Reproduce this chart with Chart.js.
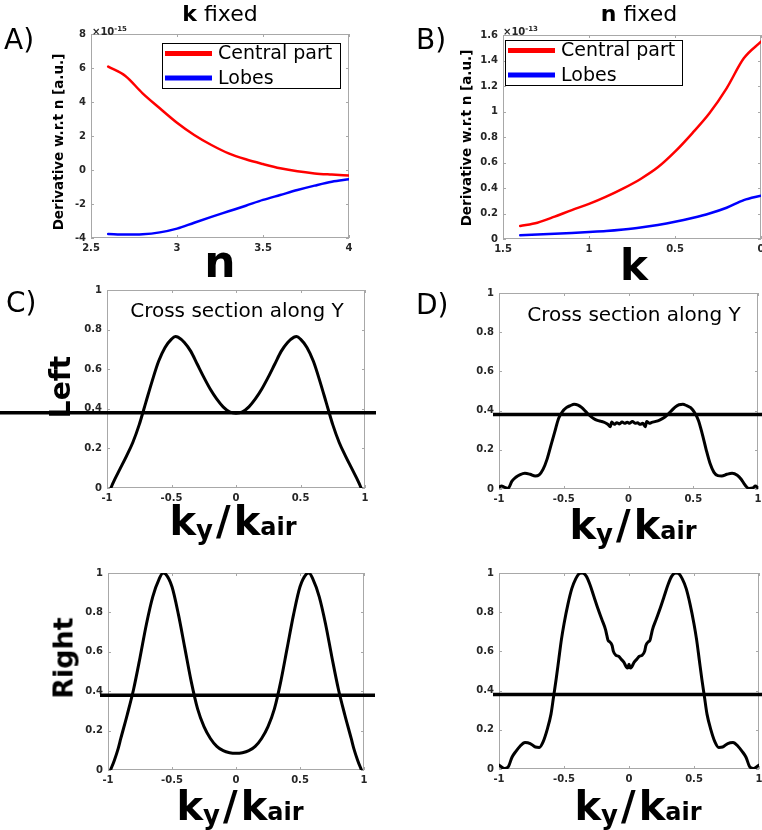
<!DOCTYPE html>
<html>
<head>
<meta charset="utf-8">
<script src="https://cdn.jsdelivr.net/npm/chart.js@4.4.1/dist/chart.umd.min.js"></script>
<style>
  body { margin: 0; background: #fff; }
  #fig { position: relative; width: 762px; height: 830px; overflow: hidden; font-family: 'DejaVu Sans', sans-serif; color: #000; }
  #fig canvas { position: absolute; }
  .txt { position: absolute; white-space: nowrap; line-height: 1; }
  .center { transform: translateX(-50%); }
  .rot { transform: translate(-50%, -50%) rotate(-90deg); font-weight: bold; }
  .kk { position: absolute; transform: translateX(-50%); font: bold 40px 'DejaVu Sans'; line-height: 40px; white-space: nowrap; }
  .kk .sy { font-size: 26px; position: relative; top: 4px; margin-right: 3px; }
  .kk .sl { margin-right: 3px; }
  .kk .sa { font-size: 24px; }
  .exp { position: absolute; font: bold 10px 'DejaVu Sans'; color: #262626; line-height: 10px; }
  .exp sup { font-size: 7px; }
</style>
</head>
<body>
<div id="fig">
  <canvas id="chartA" width="380" height="280" style="left:0;top:0"></canvas>
  <canvas id="chartB" width="382" height="280" style="left:380px;top:0"></canvas>
  <canvas id="chartCL" width="380" height="270" style="left:0;top:280px"></canvas>
  <canvas id="chartDL" width="382" height="270" style="left:380px;top:280px"></canvas>
  <canvas id="chartCR" width="380" height="280" style="left:0;top:550px"></canvas>
  <canvas id="chartDR" width="382" height="280" style="left:380px;top:550px"></canvas>

  <div class="txt" style="left:4px;top:26px;font-size:28px">A)</div>
  <div class="txt" style="left:416px;top:26px;font-size:28px">B)</div>
  <div class="txt" style="left:6px;top:289px;font-size:28px">C)</div>
  <div class="txt" style="left:416px;top:291px;font-size:28px">D)</div>

  <div class="txt center" style="left:220px;top:3px;font-size:22px"><b>k</b> fixed</div>
  <div class="txt center" style="left:639px;top:3px;font-size:22px"><b>n</b> fixed</div>

  <div class="exp" style="left:92px;top:24px">×10<sup>-15</sup></div>
  <div class="exp" style="left:503px;top:24px">×10<sup>-13</sup></div>

  <div class="txt rot" style="left:59px;top:142px;font-size:13.5px">Derivative w.r.t n [a.u.]</div>
  <div class="txt rot" style="left:467px;top:138px;font-size:13.5px">Derivative w.r.t n [a.u.]</div>

  <div class="txt center" style="left:220px;top:240px;font-size:44px;font-weight:bold">n</div>
  <div class="txt center" style="left:634px;top:245px;font-size:42px;font-weight:bold">k</div>

  <div class="txt center" style="left:237px;top:300px;font-size:20px">Cross section along Y</div>
  <div class="txt center" style="left:634px;top:304px;font-size:20px">Cross section along Y</div>

  <div class="txt rot" style="left:61px;top:387px;font-size:28px">Left</div>
  <div class="txt rot" style="left:63px;top:658px;font-size:27px">Right</div>

  <div class="kk" style="left:233px;top:501px">k<span class="sy">y</span><span class="sl">/</span>k<span class="sa">air</span></div>
  <div class="kk" style="left:633px;top:505px">k<span class="sy">y</span><span class="sl">/</span>k<span class="sa">air</span></div>
  <div class="kk" style="left:240px;top:786px">k<span class="sy">y</span><span class="sl">/</span>k<span class="sa">air</span></div>
  <div class="kk" style="left:638px;top:786px">k<span class="sy">y</span><span class="sl">/</span>k<span class="sa">air</span></div>
</div>

<script>
// A) derivative vs n (k fixed), values in units of 1e-15
const nValues = [2.6, 2.7, 2.8, 2.9, 3.0, 3.1, 3.2, 3.3, 3.4, 3.5, 3.6, 3.7, 3.8, 3.9, 4.0];
const centralVsN = [6.08, 5.53, 4.51, 3.63, 2.78, 2.06, 1.47, 0.98, 0.63, 0.35, 0.10, -0.08, -0.20, -0.27, -0.33];
const lobesVsN = [-3.76, -3.80, -3.78, -3.67, -3.45, -3.10, -2.76, -2.43, -2.10, -1.76, -1.47, -1.18, -0.92, -0.69, -0.55];

// B) derivative vs k (n fixed), values in units of 1e-13
const kValues = [1.4, 1.3, 1.2, 1.1, 1.0, 0.9, 0.8, 0.7, 0.6, 0.5, 0.4, 0.3, 0.2, 0.1, 0.0];
const centralVsK = [0.102, 0.128, 0.175, 0.227, 0.275, 0.332, 0.397, 0.471, 0.562, 0.685, 0.829, 0.986, 1.182, 1.417, 1.548];
const lobesVsK = [0.030, 0.036, 0.042, 0.048, 0.055, 0.063, 0.075, 0.090, 0.110, 0.135, 0.165, 0.200, 0.245, 0.305, 0.340];

// C) cross sections, left and right
const kyLeftC = [-0.97, -0.95, -0.9, -0.85, -0.8, -0.75, -0.7, -0.65, -0.6, -0.55, -0.5, -0.47, -0.45, -0.4, -0.35, -0.3, -0.25, -0.2, -0.15, -0.1, -0.05, 0,
                 0.05, 0.1, 0.15, 0.2, 0.25, 0.3, 0.35, 0.4, 0.45, 0.47, 0.5, 0.55, 0.6, 0.65, 0.7, 0.75, 0.8, 0.85, 0.9, 0.95, 0.97];
const leftC = [0, 0.03, 0.095, 0.16, 0.23, 0.32, 0.43, 0.54, 0.64, 0.71, 0.752, 0.765, 0.762, 0.735, 0.69, 0.625, 0.56, 0.5, 0.45, 0.41, 0.385, 0.378,
               0.385, 0.41, 0.45, 0.5, 0.56, 0.625, 0.69, 0.735, 0.762, 0.765, 0.752, 0.71, 0.64, 0.54, 0.43, 0.32, 0.23, 0.16, 0.095, 0.03, 0];

const kyRightC = [-0.98, -0.95, -0.92, -0.9, -0.85, -0.8, -0.75, -0.7, -0.65, -0.6, -0.57, -0.55, -0.5, -0.45, -0.4, -0.35, -0.3, -0.25, -0.2, -0.15, -0.1, -0.05, 0,
                  0.05, 0.1, 0.15, 0.2, 0.25, 0.3, 0.35, 0.4, 0.45, 0.5, 0.55, 0.57, 0.6, 0.65, 0.7, 0.75, 0.8, 0.85, 0.9, 0.92, 0.95, 0.98];
const rightC = [0, 0.05, 0.11, 0.16, 0.28, 0.41, 0.57, 0.74, 0.88, 0.97, 1.0, 0.995, 0.93, 0.79, 0.62, 0.45, 0.31, 0.22, 0.16, 0.12, 0.098, 0.088, 0.085,
                0.088, 0.098, 0.12, 0.16, 0.22, 0.31, 0.45, 0.62, 0.79, 0.93, 0.995, 1.0, 0.97, 0.88, 0.74, 0.57, 0.41, 0.28, 0.16, 0.11, 0.05, 0];

// D) cross sections, left and right
const kyLeftD = [-1, -0.98, -0.96, -0.93, -0.9, -0.87, -0.84, -0.8, -0.76, -0.72, -0.69, -0.66, -0.63, -0.6, -0.57, -0.54, -0.51, -0.48, -0.45, -0.42, -0.39, -0.36, -0.33, -0.3, -0.27, -0.24, -0.21, -0.18, -0.16, -0.14, -0.13, -0.11, -0.09, -0.07, -0.05, -0.03, -0.01,
                 0.01, 0.03, 0.05, 0.07, 0.09, 0.11, 0.13, 0.14, 0.16, 0.18, 0.21, 0.24, 0.27, 0.3, 0.33, 0.36, 0.39, 0.42, 0.45, 0.48, 0.51, 0.54, 0.57, 0.6, 0.63, 0.66, 0.69, 0.72, 0.76, 0.8, 0.84, 0.87, 0.9, 0.93, 0.96, 0.98, 1];
const leftD = [0.01, 0.015, 0.01, 0.003, 0.04, 0.06, 0.072, 0.08, 0.075, 0.066, 0.072, 0.10, 0.15, 0.22, 0.29, 0.36, 0.395, 0.415, 0.425, 0.432, 0.428, 0.415, 0.395, 0.375, 0.36, 0.35, 0.345, 0.338, 0.33, 0.318, 0.342, 0.33, 0.338, 0.332, 0.342, 0.335, 0.34,
               0.335, 0.345, 0.335, 0.338, 0.33, 0.335, 0.318, 0.345, 0.335, 0.34, 0.345, 0.352, 0.362, 0.378, 0.398, 0.418, 0.43, 0.432, 0.425, 0.415, 0.39, 0.35, 0.28, 0.20, 0.13, 0.085, 0.068, 0.066, 0.075, 0.08, 0.07, 0.05, 0.02, 0.003, 0.005, 0.015, 0.005];

const kyRightD = [-1, -0.98, -0.96, -0.93, -0.9, -0.87, -0.84, -0.8, -0.76, -0.72, -0.69, -0.66, -0.63, -0.6, -0.58, -0.56, -0.54, -0.52, -0.5, -0.47, -0.44, -0.41, -0.38, -0.36, -0.33, -0.3, -0.27, -0.24, -0.21, -0.18, -0.17, -0.16, -0.15, -0.13, -0.12, -0.1, -0.08, -0.06, -0.04, -0.02, -0.01, 0,
                  0.01, 0.02, 0.04, 0.06, 0.08, 0.1, 0.12, 0.13, 0.15, 0.16, 0.17, 0.18, 0.21, 0.24, 0.27, 0.3, 0.33, 0.36, 0.38, 0.41, 0.44, 0.47, 0.5, 0.52, 0.54, 0.56, 0.58, 0.6, 0.63, 0.66, 0.69, 0.72, 0.76, 0.8, 0.84, 0.87, 0.9, 0.93, 0.96, 0.98, 1];
const rightD = [0.02, 0.01, 0.003, 0.01, 0.06, 0.09, 0.115, 0.135, 0.13, 0.112, 0.11, 0.14, 0.20, 0.28, 0.37, 0.46, 0.56, 0.66, 0.74, 0.84, 0.92, 0.97, 0.998, 1.0, 0.985, 0.94, 0.88, 0.82, 0.765, 0.71, 0.68, 0.655, 0.65, 0.63, 0.60, 0.58, 0.575, 0.56, 0.545, 0.52, 0.515, 0.535,
                0.515, 0.52, 0.545, 0.56, 0.575, 0.58, 0.60, 0.63, 0.65, 0.655, 0.68, 0.71, 0.765, 0.82, 0.88, 0.94, 0.985, 1.0, 0.998, 0.97, 0.92, 0.84, 0.74, 0.66, 0.56, 0.46, 0.37, 0.28, 0.20, 0.14, 0.11, 0.112, 0.13, 0.135, 0.115, 0.09, 0.06, 0.01, 0.003, 0.01, 0.02];

const threshold = 0.38;

const tickFont = { family: 'DejaVu Sans', size: 10, weight: 'bold' };
const tickColor = '#262626';

function toPoints(xs, ys) {
    return xs.map((x, i) => ({ x: x, y: ys[i] }));
}

// plain number labels: 1 rather than 1.0
function plainTick(value) {
    return String(+value.toFixed(4));
}

// box around the axes with short inward ticks on all four sides
const axesBox = {
    id: 'axesBox',
    beforeDatasetsDraw(chart) {
        const { ctx, chartArea: a, scales: { x, y } } = chart;
        ctx.save();
        ctx.strokeStyle = '#a8a8a8';
        ctx.lineWidth = 1;
        ctx.strokeRect(Math.round(a.left) + 0.5, Math.round(a.top) + 0.5, Math.round(a.width) - 1, Math.round(a.height) - 1);
        ctx.beginPath();
        x.ticks.forEach(t => {
            const px = Math.round(x.getPixelForValue(t.value)) + 0.5;
            ctx.moveTo(px, a.bottom); ctx.lineTo(px, a.bottom - 3);
            ctx.moveTo(px, a.top); ctx.lineTo(px, a.top + 3);
        });
        y.ticks.forEach(t => {
            const py = Math.round(y.getPixelForValue(t.value)) + 0.5;
            ctx.moveTo(a.left, py); ctx.lineTo(a.left + 3, py);
            ctx.moveTo(a.right, py); ctx.lineTo(a.right - 3, py);
        });
        ctx.stroke();
        ctx.restore();
    }
};

// horizontal reference level running past the axes
const levelLine = {
    id: 'levelLine',
    afterDatasetsDraw(chart, args, opts) {
        if (opts.value === undefined) return;
        const { ctx, chartArea: a, scales: { y } } = chart;
        const py = y.getPixelForValue(opts.value);
        ctx.save();
        ctx.strokeStyle = '#000';
        ctx.lineWidth = 3.5;
        ctx.beginPath();
        ctx.moveTo(a.left - opts.extendLeft, py);
        ctx.lineTo(a.right + opts.extendRight, py);
        ctx.stroke();
        ctx.restore();
    }
};

// boxed legend with thick line samples
const boxLegend = {
    id: 'boxLegend',
    afterDraw(chart, args, opts) {
        if (!opts.box) return;
        const { ctx } = chart;
        const [bx, by, bw, bh] = opts.box;
        ctx.save();
        ctx.fillStyle = '#fff';
        ctx.fillRect(bx, by, bw, bh);
        ctx.strokeStyle = '#000';
        ctx.lineWidth = 1;
        ctx.strokeRect(bx + 0.5, by + 0.5, bw, bh);
        ctx.font = '19px "DejaVu Sans"';
        ctx.textBaseline = 'middle';
        chart.data.datasets.forEach((ds, i) => {
            const ry = by + opts.firstRow + i * opts.rowGap;
            ctx.strokeStyle = ds.borderColor;
            ctx.lineWidth = 5;
            ctx.beginPath();
            ctx.moveTo(bx + 3, ry);
            ctx.lineTo(bx + 3 + opts.lineLen, ry);
            ctx.stroke();
            ctx.fillStyle = '#000';
            ctx.fillText(ds.label, bx + opts.lineLen + 9, ry + 1);
        });
        ctx.restore();
    }
};

function makePanel(id, p) {
    const ctx = document.getElementById(id).getContext('2d');
    return new Chart(ctx, {
        type: 'line',
        data: { datasets: p.datasets },
        options: {
            responsive: false,
            animation: false,
            events: [],
            layout: { padding: { top: p.top, right: p.right, left: 0, bottom: 0 } },
            elements: {
                point: { radius: 0 },
                line: { cubicInterpolationMode: 'monotone', borderCapStyle: 'round', borderJoinStyle: 'round' }
            },
            scales: {
                x: {
                    type: 'linear', min: p.xMin, max: p.xMax, reverse: !!p.reverseX,
                    ticks: { stepSize: p.xStep, padding: 4, color: tickColor, font: tickFont, maxRotation: 0, callback: plainTick },
                    grid: { display: false, drawTicks: false },
                    border: { display: false },
                    afterFit: s => { s.height = p.xHeight; s.paddingLeft = 0; s.paddingRight = 0; }
                },
                y: {
                    type: 'linear', min: p.yMin, max: p.yMax,
                    ticks: { stepSize: p.yStep, padding: 5, color: tickColor, font: tickFont, callback: plainTick },
                    grid: { display: false, drawTicks: false },
                    border: { display: false },
                    afterFit: s => { s.width = p.yWidth; s.paddingTop = 0; s.paddingBottom = 0; }
                }
            },
            plugins: {
                legend: { display: false },
                tooltip: { enabled: false },
                levelLine: p.level || {},
                boxLegend: p.legend || {}
            }
        },
        plugins: [axesBox, levelLine, boxLegend]
    });
}

function curve(xs, ys) {
    return { label: 'profile', data: toPoints(xs, ys), borderColor: '#000', borderWidth: 3 };
}

makePanel('chartA', {
    datasets: [
        { label: 'Central part', data: toPoints(nValues, centralVsN), borderColor: '#ff0000', borderWidth: 2.5 },
        { label: 'Lobes', data: toPoints(nValues, lobesVsN), borderColor: '#0000ff', borderWidth: 2.5 }
    ],
    xMin: 2.5, xMax: 4, xStep: 0.5, yMin: -4, yMax: 8, yStep: 2,
    top: 34, right: 31, yWidth: 91, xHeight: 42,
    legend: { box: [162, 43, 178, 45], firstRow: 10.5, rowGap: 24.5, lineLen: 47 }
});

makePanel('chartB', {
    datasets: [
        { label: 'Central part', data: toPoints(kValues, centralVsK), borderColor: '#ff0000', borderWidth: 2.5 },
        { label: 'Lobes', data: toPoints(kValues, lobesVsK), borderColor: '#0000ff', borderWidth: 2.5 }
    ],
    xMin: 0, xMax: 1.5, xStep: 0.5, reverseX: true, yMin: 0, yMax: 1.6, yStep: 0.2,
    top: 35, right: 1, yWidth: 123, xHeight: 41,
    legend: { box: [125, 40, 177, 45], firstRow: 10.5, rowGap: 24.5, lineLen: 47 }
});

makePanel('chartCL', {
    datasets: [curve(kyLeftC, leftC)],
    xMin: -1, xMax: 1, xStep: 0.5, yMin: 0, yMax: 1, yStep: 0.2,
    top: 10, right: 15, yWidth: 107, xHeight: 62,
    level: { value: threshold, extendLeft: 107, extendRight: 11 }
});

makePanel('chartDL', {
    datasets: [curve(kyLeftD, leftD)],
    xMin: -1, xMax: 1, xStep: 0.5, yMin: 0, yMax: 1, yStep: 0.2,
    top: 13, right: 4, yWidth: 119, xHeight: 61,
    level: { value: threshold, extendLeft: 6, extendRight: 6 }
});

makePanel('chartCR', {
    datasets: [curve(kyRightC, rightC)],
    xMin: -1, xMax: 1, xStep: 0.5, yMin: 0, yMax: 1, yStep: 0.2,
    top: 23, right: 16, yWidth: 108, xHeight: 60,
    level: { value: threshold, extendLeft: 8, extendRight: 11 }
});

makePanel('chartDR', {
    datasets: [curve(kyRightD, rightD)],
    xMin: -1, xMax: 1, xStep: 0.5, yMin: 0, yMax: 1, yStep: 0.2,
    top: 23, right: 3, yWidth: 119, xHeight: 61,
    level: { value: threshold, extendLeft: 6, extendRight: 6 }
});
</script>
</body>
</html>
